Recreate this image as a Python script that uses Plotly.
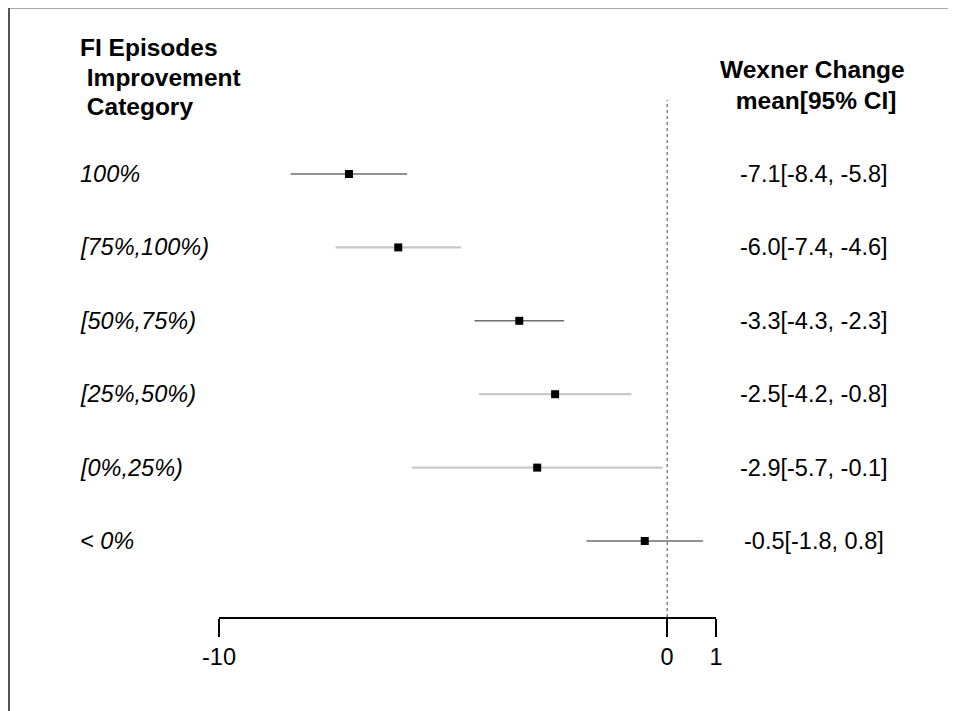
import plotly.graph_objects as go

# ---- data ----
categories = ["100%", "[75%,100%)", "[50%,75%)", "[25%,50%)", "[0%,25%)", "< 0%"]
means = [-7.1, -6.0, -3.3, -2.5, -2.9, -0.5]
lower = [-8.4, -7.4, -4.3, -4.2, -5.7, -1.8]
upper = [-5.8, -4.6, -2.3, -0.8, -0.1, 0.8]
ci_labels = ["-7.1[-8.4, -5.8]", "-6.0[-7.4, -4.6]", "-3.3[-4.3, -2.3]",
             "-2.5[-4.2, -0.8]", "-2.9[-5.7, -0.1]", "-0.5[-1.8, 0.8]"]
line_dark = [True, False, True, False, False, True]
tick_vals = [-10, 0, 1.09]
tick_text = ["-10", "0", "1"]
header_left = ["FI Episodes", " Improvement", " Category"]
header_right = ["Wexner Change", " mean[95% CI]"]

W, H = 956, 711
OFF = 8  # page body margin
FONT = "Liberation Sans, Arial, sans-serif"


def px_x(p):
    return (p - OFF) / W


def px_y(p):
    return 1 - (p - OFF) / H


n = len(categories)
rows = [n - i for i in range(n)]  # top row = n

fig = go.Figure()

for i in range(n):
    col = "#6e6e6e" if line_dark[i] else "#c8c8c8"
    wid = 1.6 if line_dark[i] else 2.2
    fig.add_trace(go.Scatter(
        x=[lower[i], upper[i]], y=[rows[i], rows[i]], mode="lines",
        line=dict(color=col, width=wid), showlegend=False, hoverinfo="skip"))

fig.add_trace(go.Scatter(
    x=means, y=rows, mode="markers",
    marker=dict(symbol="square", size=8, color="black"),
    showlegend=False))

# zero reference line
fig.add_shape(type="line", xref="x", yref="y domain", x0=0, x1=0, y0=0, y1=1,
              line=dict(color="#444444", width=1, dash="dot"), layer="below")


def bold(t):
    if t.startswith(" "):
        t = "&nbsp;" + t[1:]
    return "<b>" + t + "</b>"


annotations = []
for i in range(n):
    annotations.append(dict(
        x=px_x(78), y=rows[i], xref="paper", yref="y", text=categories[i],
        showarrow=False, xanchor="left", yanchor="middle",
        font=dict(family=FONT, size=23.5, color="black", style="italic")))
    annotations.append(dict(
        x=px_x(814), y=rows[i], xref="paper", yref="y", text=ci_labels[i],
        showarrow=False, xanchor="center", yanchor="middle",
        font=dict(family=FONT, size=23.5, color="black")))

for j, t in enumerate(header_left):
    annotations.append(dict(
        x=px_x(78), y=px_y(47 + 30 * j), xref="paper", yref="paper",
        text=bold(t), showarrow=False, xanchor="left", yanchor="middle",
        font=dict(family=FONT, size=24.5, color="black")))
for j, t in enumerate(header_right):
    annotations.append(dict(
        x=px_x(812), y=px_y(70 + 31 * j), xref="paper", yref="paper",
        text=bold(t), showarrow=False, xanchor="center", yanchor="middle",
        font=dict(family=FONT, size=24.5, color="black")))

# frame (top and left edges)
fig.add_shape(type="line", xref="paper", yref="paper", x0=px_x(9), x1=1, y0=px_y(7.5), y1=px_y(7.5),
              line=dict(color="#555555", width=2))
fig.add_shape(type="line", xref="paper", yref="paper", x0=px_x(9), x1=px_x(9), y0=0, y1=px_y(7.5),
              line=dict(color="#555555", width=2))

fig.update_layout(
    width=W, height=H, autosize=False,
    margin=dict(l=0, r=0, t=0, b=0, pad=0),
    paper_bgcolor="white", plot_bgcolor="white",
    annotations=annotations,
    xaxis=dict(domain=[px_x(219), px_x(716)], range=[-10, 1.09], automargin=False,
               showgrid=False, zeroline=False, showline=True, linecolor="black", linewidth=2,
               ticks="outside", ticklen=18, tickwidth=2, tickcolor="black",
               tickvals=tick_vals, ticktext=tick_text,
               tickfont=dict(family=FONT, size=23.5, color="black")),
    yaxis=dict(domain=[1 - (617 - OFF) / H, 1 - (100 - OFF) / H], range=[-0.035, 7.008],
               visible=False, showgrid=False, zeroline=False, automargin=False),
    font=dict(family=FONT),
)

fig.write_html("out.html", config={"responsive": False})
